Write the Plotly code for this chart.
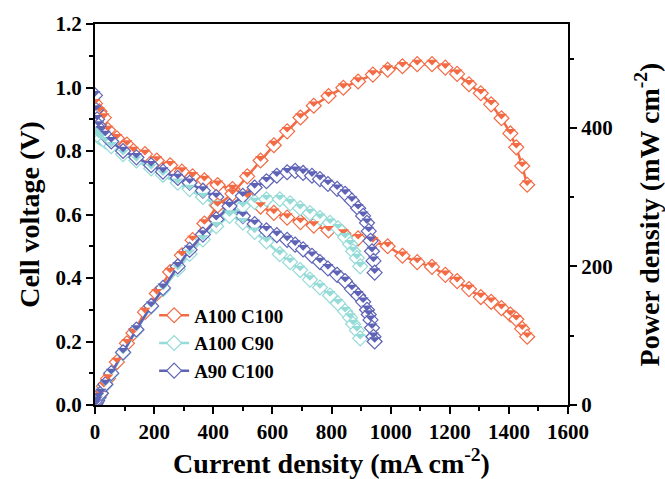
import plotly.graph_objects as go

# ---------------- data ----------------
series_names = ["A100 C100", "A100 C90", "A90 C100"]
series_colors = ["#F26B45", "#95DBD7", "#5E63B6"]

# A100 C100
j_a100c100 = [0, 15, 30, 44, 74, 108, 130, 169, 209, 254, 294, 330, 370, 415, 465,
              515, 560, 605, 650, 695, 740, 790, 840, 890, 940, 990, 1040, 1090,
              1140, 1185, 1225, 1265, 1305, 1340, 1375, 1405, 1425, 1445, 1462]
v_a100c100 = [0.95, 0.925, 0.905, 0.866, 0.84, 0.82, 0.80, 0.79, 0.77, 0.755, 0.735,
              0.72, 0.708, 0.693, 0.68, 0.655, 0.625, 0.605, 0.59, 0.576, 0.565, 0.55,
              0.54, 0.525, 0.515, 0.50, 0.47, 0.45, 0.435, 0.41, 0.39, 0.365, 0.34,
              0.325, 0.305, 0.285, 0.27, 0.24, 0.215]
p_a100c100 = [0, 14, 27, 38, 62, 89, 104, 134, 161, 192, 216, 238, 262, 288, 305,
              330, 353, 375, 395, 415, 432, 446, 458, 467, 477, 484, 489, 492, 492,
              487, 478, 463, 450, 434, 414, 392, 372, 345, 318]

# A100 C90
j_a100c90 = [0, 3, 7, 12, 20, 35, 55, 95, 140, 190, 230, 280, 320, 365, 410, 455,
             500, 540, 580, 625, 660, 694, 727, 761, 795, 822, 846, 863, 873, 886, 897]
v_a100c90 = [0.86, 0.855, 0.85, 0.845, 0.84, 0.83, 0.815, 0.79, 0.77, 0.745, 0.725,
             0.70, 0.68, 0.655, 0.63, 0.60, 0.575, 0.545, 0.515, 0.475, 0.45, 0.425,
             0.395, 0.37, 0.345, 0.32, 0.295, 0.275, 0.255, 0.235, 0.21]
p_a100c90 = [0, 3, 6, 10, 17, 29, 45, 75, 108, 142, 167, 196, 218, 239, 258, 273,
             287, 293, 297, 297, 291, 284, 277, 270, 263, 255, 242, 232, 222, 212, 200]

# A90 C100
j_a90c100 = [0, 3, 7, 12, 20, 35, 55, 95, 140, 190, 230, 280, 320, 365, 410, 455,
             500, 540, 580, 615, 650, 677, 704, 734, 761, 788, 819, 846, 869, 890,
             907, 920, 926, 932, 937, 942, 946]
v_a90c100 = [0.975, 0.93, 0.90, 0.88, 0.865, 0.85, 0.83, 0.80, 0.78, 0.755, 0.735,
             0.715, 0.70, 0.675, 0.655, 0.625, 0.595, 0.57, 0.55, 0.535, 0.52, 0.505,
             0.49, 0.47, 0.45, 0.43, 0.41, 0.39, 0.365, 0.345, 0.325, 0.30, 0.285,
             0.268, 0.243, 0.215, 0.20]
p_a90c100 = [0, 3, 6, 11, 17, 30, 46, 76, 109, 143, 169, 200, 224, 246, 268, 287,
             302, 314, 323, 331, 336, 338, 335, 331, 326, 319, 312, 305, 295, 284,
             273, 263, 251, 237, 222, 208, 191]

x_ticks = [0, 200, 400, 600, 800, 1000, 1200, 1400, 1600]
v_ticks = [0.0, 0.2, 0.4, 0.6, 0.8, 1.0, 1.2]
p_ticks = [0, 200, 400]
V_RANGE = [0, 1.2]
P_RANGE = [0, 550]

series_j = [j_a100c100, j_a100c90, j_a90c100]
series_v = [v_a100c100, v_a100c90, v_a90c100]
series_p = [p_a100c100, p_a100c90, p_a90c100]

# ---------------- styling ----------------
FONT = "Liberation Serif"
W, H = 665, 479
M = dict(l=95, r=97, t=24, b=74)
PLOT_H = H - M["t"] - M["b"]

DIAMOND = 11.5
HALF_W = 1.3 * DIAMOND / 2              # half-diagonal of plotly's diamond (px)
FILL = 2 * HALF_W / 1.697               # rotated triangle-se matching lower half
LIFT_PX = HALF_W / 3.0                  # rotated triangle sits this far below centre
v_lift = LIFT_PX / PLOT_H * (V_RANGE[1] - V_RANGE[0])
p_lift = LIFT_PX / PLOT_H * (P_RANGE[1] - P_RANGE[0])

fig = go.Figure()
# outlined diamonds + connecting lines
for name, color, j, v, p in zip(series_names, series_colors, series_j, series_v, series_p):
    for yvals, axis, show in ((v, "y", True), (p, "y2", False)):
        fig.add_trace(go.Scatter(
            x=j, y=yvals, yaxis=axis, mode="lines+markers", name=name,
            showlegend=show,
            line=dict(color=color, width=2.5),
            marker=dict(symbol="diamond", size=DIAMOND, color="white",
                        line=dict(color=color, width=1.2)),
        ))
# filled lower halves (on overlay axes nudged so the triangle top meets the centre)
for name, color, j, v, p in zip(series_names, series_colors, series_j, series_v, series_p):
    for yvals, axis in ((v, "y3"), (p, "y4")):
        fig.add_trace(go.Scatter(
            x=j, y=yvals, yaxis=axis, mode="markers", showlegend=False,
            hoverinfo="skip",
            marker=dict(symbol="triangle-se", angle=45, size=FILL, color=color,
                        line=dict(width=0, color=color)),
        ))

axis_common = dict(
    showline=True, linewidth=2, linecolor="black",
    ticks="outside", ticklen=7, tickwidth=2, tickcolor="black",
    showgrid=False, zeroline=False, automargin=False,
    tickfont=dict(family=FONT, size=21, color="black", weight="bold"),
)
minor_common = dict(ticks="outside", ticklen=4, tickwidth=2, tickcolor="black")

fig.update_layout(
    width=W, height=H,
    margin=M,
    paper_bgcolor="white", plot_bgcolor="white",
    font=dict(family=FONT, color="black"),
    showlegend=True,
    legend=dict(x=0.125, y=0.285, xanchor="left", yanchor="top",
                bgcolor="rgba(0,0,0,0)", borderwidth=0,
                font=dict(family=FONT, size=19, color="black", weight="bold"),
                tracegroupgap=0),
    xaxis=dict(range=[0, 1600], tickvals=x_ticks, mirror=True,
               minor=dict(dtick=100, tick0=0, **minor_common),
               title=dict(text="<b>Current density (mA cm<sup>-2</sup>)</b>",
                          font=dict(family=FONT, size=28, color="black"),
                          standoff=6),
               **axis_common),
    yaxis=dict(range=V_RANGE, tickvals=v_ticks, tickformat=".1f",
               minor=dict(dtick=0.1, tick0=0, **minor_common),
               title=dict(text="<b>Cell voltage (V)</b>",
                          font=dict(family=FONT, size=28, color="black"),
                          standoff=8),
               **axis_common),
    yaxis2=dict(range=P_RANGE, tickvals=p_ticks, overlaying="y", side="right",
                minor=dict(dtick=100, tick0=0, **minor_common),
                title=dict(text="<b>Power density (mW cm<sup>-2</sup>)</b>",
                           font=dict(family=FONT, size=28, color="black"),
                           standoff=32),
                **axis_common),
    yaxis3=dict(range=[V_RANGE[0] - v_lift, V_RANGE[1] - v_lift], overlaying="y",
                visible=False, showgrid=False, zeroline=False),
    yaxis4=dict(range=[P_RANGE[0] - p_lift, P_RANGE[1] - p_lift], overlaying="y",
                visible=False, showgrid=False, zeroline=False),
)

fig.write_html("out.html")
